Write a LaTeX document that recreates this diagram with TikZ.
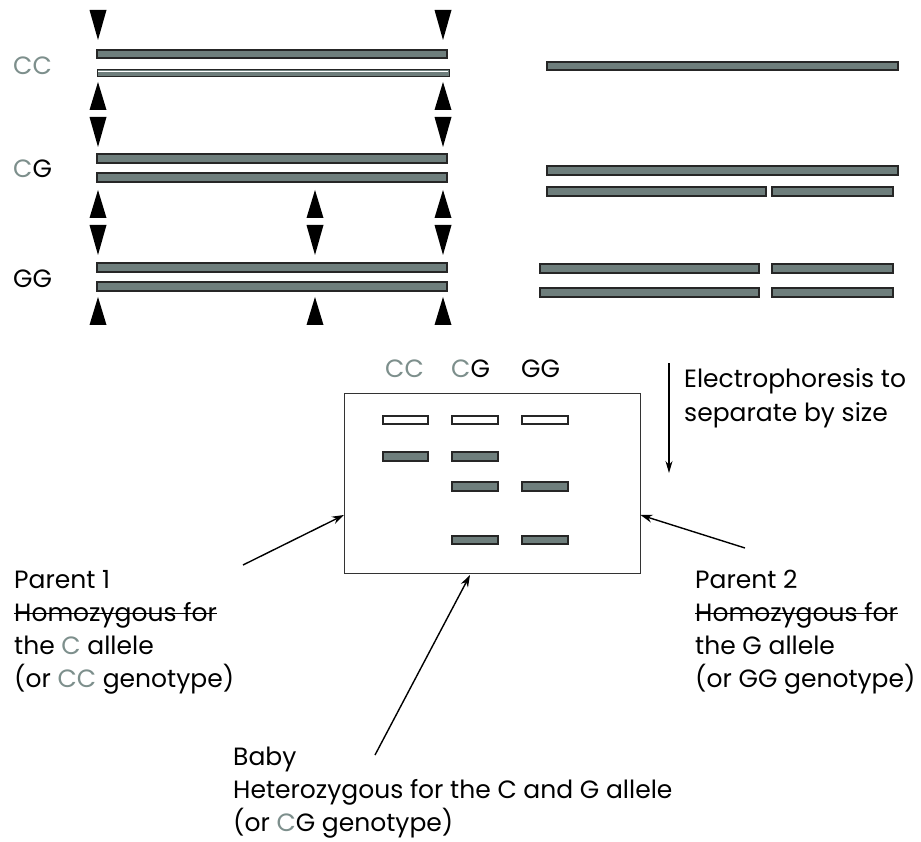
\documentclass[tikz,border=0pt]{standalone}
\usepackage{fontspec}
\setmainfont{Poppins}
\usetikzlibrary{arrows.meta}
\definecolor{cgray}{HTML}{7D8F8C}
\definecolor{barfill}{HTML}{6E7E7C}
\definecolor{bardark}{HTML}{262626}
\newcommand{\gc}[1]{\textcolor{cgray}{#1}}
\begin{document}
\begin{tikzpicture}[x=1pt,y=-1pt,
  bar/.style={fill=barfill,draw=bardark,line width=1.1pt},
  well/.style={fill=white,draw=bardark,line width=1.1pt},
  lbl/.style={anchor=base west,inner sep=0pt,font=\fontsize{25}{30}\selectfont},
  pointer/.style={line width=1.4pt,-{Stealth[length=12pt,width=8pt]}}]
\useasboundingbox (0,0) rectangle (921,842);
\fill[white] (0,0) rectangle (921,842);

% restriction-site markers: down (top edge y) and up (tip y)
\newcommand{\dtri}[2]{\fill[black] (#1-8.5,#2) -- (#1+8.5,#2) -- (#1,#2+30) -- cycle;}
\newcommand{\utri}[2]{\fill[black] (#1-8.5,#2+28) -- (#1+8.5,#2+28) -- (#1,#2) -- cycle;}

% genotype labels
\node[lbl,text=cgray] (lcc) at (13,75) {CC};
\node[lbl] (lcg) at (13,178) {\gc{C}G};
\node[lbl] (lgg) at (13,288) {GG};

% CC row
\dtri{98}{10}\dtri{443}{10}
\draw[bar] (97,50) rectangle (447,58);
\draw[bar,line width=0.9pt] (97,69) rectangle (449,76);
\draw[white,line width=1pt] (98,71.3) -- (448,71.3);
\utri{98}{82}\utri{443}{82}

% CG row
\dtri{98}{117}\dtri{443}{117}
\draw[bar] (97,154) rectangle (447,163);
\draw[bar] (97,173) rectangle (447,182);
\utri{98}{190}\utri{315}{190}\utri{443}{190}

% GG row
\dtri{98}{225}\dtri{315}{225}\dtri{443}{225}
\draw[bar] (97,263) rectangle (447,272);
\draw[bar] (97,282) rectangle (447,291);
\utri{98}{297}\utri{315}{297}\utri{443}{297}

% digested fragments
\draw[bar] (547,62) rectangle (898,70);
\draw[bar] (547,166) rectangle (898,175);
\draw[bar] (547,187) rectangle (766,196);
\draw[bar] (772,187) rectangle (893,196);
\draw[bar] (540,264) rectangle (759,273);
\draw[bar] (772,264) rectangle (893,273);
\draw[bar] (540,288) rectangle (759,297);
\draw[bar] (772,288) rectangle (893,297);

% gel
\node[draw=black!80,line width=1pt,minimum width=295.5pt,minimum height=180pt,inner sep=0pt] (gel) at (492.25,483) {};
\node[lbl,text=cgray] (gcc) at (385,377) {CC};
\node[lbl] (gcg) at (451,377) {\gc{C}G};
\node[lbl] (ggg) at (521,377) {GG};
\draw[well] (383,416) rectangle (428,424);
\draw[well] (452,416) rectangle (498,424);
\draw[well] (522,416) rectangle (568,424);
\draw[bar] (383,452) rectangle (428,461);
\draw[bar] (452,452) rectangle (498,461);
\draw[bar] (452,482) rectangle (498,491);
\draw[bar] (522,482) rectangle (568,491);
\draw[bar] (452,536) rectangle (498,544);
\draw[bar] (522,536) rectangle (568,544);

% electrophoresis direction
\coordinate (eTop) at (669,363);
\coordinate (eBot) at (669,473);
\draw[line width=1.2pt,-{Stealth[length=12pt,width=7pt]}] (eTop) -- (eBot);
\node[lbl] (e1) at (684,387) {Electrophoresis to};
\node[lbl] (e2) at (684,421) {separate by size};

% parent 1
\node[lbl] (p1a) at (14,588) {Parent 1};
\node[lbl] (p1b) at (14,621) {Homozygous for};
\node[lbl] (p1c) at (14,654) {the \gc{C} allele};
\node[lbl] (p1d) at (14,687) {(or \gc{CC} genotype)};
\draw[line width=1pt] ([yshift=8pt]p1b.base west) -- ([yshift=8pt]p1b.base east);

% parent 2
\node[lbl] (p2a) at (695,588) {Parent 2};
\node[lbl] (p2b) at (695,621) {Homozygous for};
\node[lbl] (p2c) at (695,654) {the G allele};
\node[lbl] (p2d) at (695,687) {(or GG genotype)};
\draw[line width=1pt] ([yshift=8pt]p2b.base west) -- ([yshift=8pt]p2b.base east);

% baby
\node[lbl] (ba) at (233,765) {Baby};
\node[lbl] (bb) at (233,798) {Heterozygous for the C and G allele};
\node[lbl] (bc) at (233,831) {(or \gc{C}G genotype)};

% pointers to the gel
\coordinate (p1s) at (243,565);
\coordinate (p1e) at (gel.west |- 0,515);
\coordinate (p2s) at (745,548);
\coordinate (p2e) at (gel.east |- 0,515);
\coordinate (bs) at (375,755);
\coordinate (be) at (470,575);
\draw[pointer] (p1s) -- (p1e);
\draw[pointer] (p2s) -- (p2e);
\draw[pointer] (bs) -- (be);
\end{tikzpicture}
\end{document}
